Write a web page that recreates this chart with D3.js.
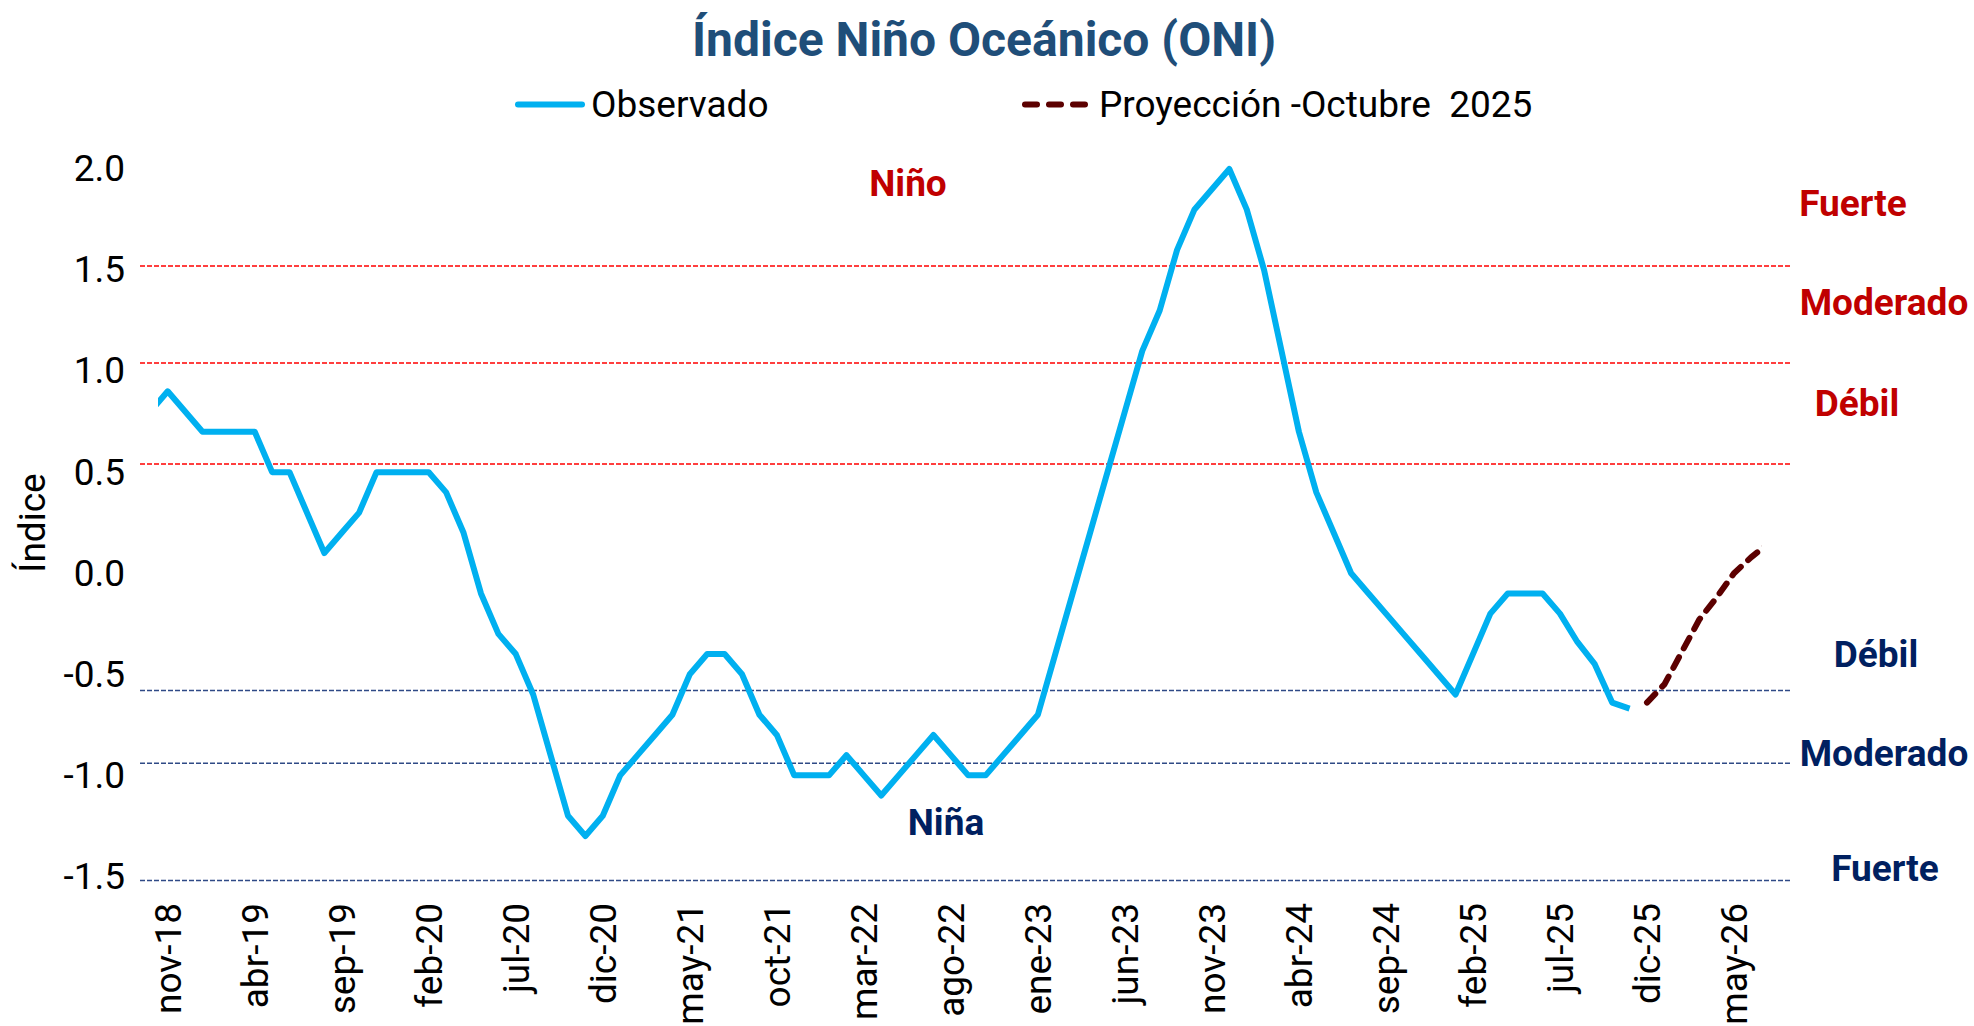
<!DOCTYPE html>
<html>
<head>
<meta charset="utf-8">
<script src="https://cdn.jsdelivr.net/npm/d3@7"></script>
<style>
  body { margin: 0; background: #fff; }
  text { font-family: Roboto, "Noto Sans", sans-serif; }
</style>
</head>
<body>
<script>
// months shown on the category axis (oct-18 .. jul-26)
const months = [
  "oct-18","nov-18","dic-18",
  "ene-19","feb-19","mar-19","abr-19","may-19","jun-19","jul-19","ago-19","sep-19","oct-19","nov-19","dic-19",
  "ene-20","feb-20","mar-20","abr-20","may-20","jun-20","jul-20","ago-20","sep-20","oct-20","nov-20","dic-20",
  "ene-21","feb-21","mar-21","abr-21","may-21","jun-21","jul-21","ago-21","sep-21","oct-21","nov-21","dic-21",
  "ene-22","feb-22","mar-22","abr-22","may-22","jun-22","jul-22","ago-22","sep-22","oct-22","nov-22","dic-22",
  "ene-23","feb-23","mar-23","abr-23","may-23","jun-23","jul-23","ago-23","sep-23","oct-23","nov-23","dic-23",
  "ene-24","feb-24","mar-24","abr-24","may-24","jun-24","jul-24","ago-24","sep-24","oct-24","nov-24","dic-24",
  "ene-25","feb-25","mar-25","abr-25","may-25","jun-25","jul-25","ago-25","sep-25","oct-25","nov-25","dic-25",
  "ene-26","feb-26","mar-26","abr-26","may-26","jun-26","jul-26"
];

// Observado: oct-18 .. nov-25
const observado = [
  0.8, 0.9, 0.8,
  0.7, 0.7, 0.7, 0.7, 0.5, 0.5, 0.3, 0.1, 0.2, 0.3, 0.5, 0.5,
  0.5, 0.5, 0.4, 0.2, -0.1, -0.3, -0.4, -0.6, -0.9, -1.2, -1.3, -1.2,
  -1.0, -0.9, -0.8, -0.7, -0.5, -0.4, -0.4, -0.5, -0.7, -0.8, -1.0, -1.0,
  -1.0, -0.9, -1.0, -1.1, -1.0, -0.9, -0.8, -0.9, -1.0, -1.0, -0.9, -0.8,
  -0.7, -0.4, -0.1, 0.2, 0.5, 0.8, 1.1, 1.3, 1.6, 1.8, 1.9, 2.0,
  1.8, 1.5, 1.1, 0.7, 0.4, 0.2, 0.0, -0.1, -0.2, -0.3, -0.4, -0.5,
  -0.6, -0.4, -0.2, -0.1, -0.1, -0.1, -0.2, -0.34, -0.45, -0.64, -0.67
];

// Proyección -Octubre 2025: dic-25 .. jul-26
const proyeccionMeses = ["dic-25","ene-26","feb-26","mar-26","abr-26","may-26","jun-26","jul-26"];
const proyeccion = [-0.64, -0.55, -0.39, -0.23, -0.12, 0.0, 0.08, 0.15];

const tickLabels = ["nov-18","abr-19","sep-19","feb-20","jul-20","dic-20","may-21","oct-21","mar-22",
  "ago-22","ene-23","jun-23","nov-23","abr-24","sep-24","feb-25","jul-25","dic-25","may-26"];
const yTicks = [-1.5, -1.0, -0.5, 0.0, 0.5, 1.0, 1.5, 2.0];

// threshold lines
const umbralNino = [1.52, 1.04, 0.54];
const umbralNina = [-0.58, -0.94, -1.52];

// category labels at the right side
const etiquetasNino = ["Fuerte", "Moderado", "Débil"];
const etiquetasNina = ["Débil", "Moderado", "Fuerte"];
const nivelesNino = [1.83, 1.34, 0.84];
const nivelesNina = [-0.40, -0.89, -1.46];

const W = 1974, H = 1026;
const plot = {left: 158, right: 1762};

const svg = d3.select("body").append("svg")
  .attr("width", W).attr("height", H);

svg.append("rect").attr("width", W).attr("height", H).attr("fill", "#fff");

const x = d3.scalePoint().domain(months).range([150.3, 1768.8]);
const y = d3.scaleLinear().domain([-1.5, 2.0]).range([876.4, 169]);

// title
svg.append("text")
  .attr("x", 984).attr("y", 56)
  .attr("text-anchor", "middle")
  .attr("font-size", "48px").attr("font-weight", "bold")
  .attr("fill", "#1F4E79")
  .text("Índice Niño Oceánico (ONI)");

// legend
svg.append("line")
  .attr("x1", 518).attr("x2", 582).attr("y1", 104.5).attr("y2", 104.5)
  .attr("stroke", "#00B0F0").attr("stroke-width", 6).attr("stroke-linecap", "round");
svg.append("text")
  .attr("x", 591).attr("y", 117).attr("font-size", "37px").attr("fill", "#000")
  .text("Observado");
svg.append("line")
  .attr("x1", 1025).attr("x2", 1086).attr("y1", 104.5).attr("y2", 104.5)
  .attr("stroke", "#5C0000").attr("stroke-width", 6).attr("stroke-linecap", "round")
  .attr("stroke-dasharray", "12,12");
svg.append("text")
  .attr("x", 1099).attr("y", 117).attr("font-size", "37px").attr("fill", "#000")
  .attr("xml:space", "preserve")
  .text("Proyección -Octubre  2025");

// threshold lines
svg.selectAll(".umbral-nino")
  .data(umbralNino).join("line")
  .attr("class", "umbral-nino")
  .attr("x1", 140).attr("x2", 1792)
  .attr("y1", d => y(d)).attr("y2", d => y(d))
  .attr("stroke", "#FF0000").attr("stroke-width", 1.5).attr("stroke-dasharray", "5,2");

svg.selectAll(".umbral-nina")
  .data(umbralNina).join("line")
  .attr("class", "umbral-nina")
  .attr("x1", 140).attr("x2", 1792)
  .attr("y1", d => y(d)).attr("y2", d => y(d))
  .attr("stroke", "#2F4A86").attr("stroke-width", 1.5).attr("stroke-dasharray", "5,2");

// y axis
const yAxis = svg.append("g")
  .attr("transform", "translate(135,0)")
  .call(d3.axisLeft(y).tickValues(yTicks).tickFormat(d => d.toFixed(1)).tickSize(0).tickPadding(10));
yAxis.select(".domain").remove();
yAxis.selectAll("text")
  .attr("font-size", "37px").attr("fill", "#000")
  .style("font-family", "Roboto, sans-serif");

svg.append("text")
  .attr("transform", "translate(45,523) rotate(-90)")
  .attr("text-anchor", "middle")
  .attr("font-size", "37px").attr("fill", "#000")
  .text("Índice");

// x axis
const xAxis = svg.append("g")
  .attr("transform", "translate(0,893)")
  .call(d3.axisBottom(x).tickValues(tickLabels).tickSize(0));
xAxis.select(".domain").remove();
xAxis.selectAll("text")
  .attr("font-size", "37px").attr("fill", "#000")
  .style("font-family", "Roboto, sans-serif")
  .attr("transform", "rotate(-90)")
  .attr("x", -10).attr("y", 0).attr("dy", "0.35em")
  .style("text-anchor", "end");

// clip to plot area
svg.append("clipPath").attr("id", "plotclip")
  .append("rect").attr("x", plot.left).attr("y", 0)
  .attr("width", plot.right - plot.left).attr("height", H);

const line = d3.line()
  .x(d => x(d[0]))
  .y(d => y(d[1]));

const obsData = observado.map((v, i) => [months[i], v]);
const proData = proyeccion.map((v, i) => [proyeccionMeses[i], v]);

const g = svg.append("g").attr("clip-path", "url(#plotclip)");

g.append("path")
  .datum(obsData)
  .attr("d", line)
  .attr("fill", "none")
  .attr("stroke", "#00B0F0")
  .attr("stroke-width", 6)
  .attr("stroke-linejoin", "round");

g.append("path")
  .datum(proData)
  .attr("d", line)
  .attr("fill", "none")
  .attr("stroke", "#5C0000")
  .attr("stroke-width", 6)
  .attr("stroke-linecap", "round")
  .attr("stroke-dasharray", "12,10");

// annotations
svg.append("text")
  .attr("x", 908).attr("y", y(1.93)).attr("dy", "0.35em")
  .attr("text-anchor", "middle")
  .attr("font-size", "37px").attr("font-weight", "bold").attr("fill", "#C00000")
  .text("Niño");
svg.append("text")
  .attr("x", 946).attr("y", y(-1.23)).attr("dy", "0.35em")
  .attr("text-anchor", "middle")
  .attr("font-size", "37px").attr("font-weight", "bold").attr("fill", "#002060")
  .text("Niña");

svg.selectAll(".lbl-nino")
  .data(etiquetasNino).join("text")
  .attr("class", "lbl-nino")
  .attr("x", (d, i) => i === 1 ? 1884 : (i === 0 ? 1853 : 1857))
  .attr("y", (d, i) => y(nivelesNino[i])).attr("dy", "0.35em")
  .attr("text-anchor", "middle")
  .attr("font-size", "37px").attr("font-weight", "bold").attr("fill", "#C00000")
  .text(d => d);

svg.selectAll(".lbl-nina")
  .data(etiquetasNina).join("text")
  .attr("class", "lbl-nina")
  .attr("x", (d, i) => i === 1 ? 1884 : (i === 0 ? 1876 : 1885))
  .attr("y", (d, i) => y(nivelesNina[i])).attr("dy", "0.35em")
  .attr("text-anchor", "middle")
  .attr("font-size", "37px").attr("font-weight", "bold").attr("fill", "#002060")
  .text(d => d);
</script>
</body>
</html>
